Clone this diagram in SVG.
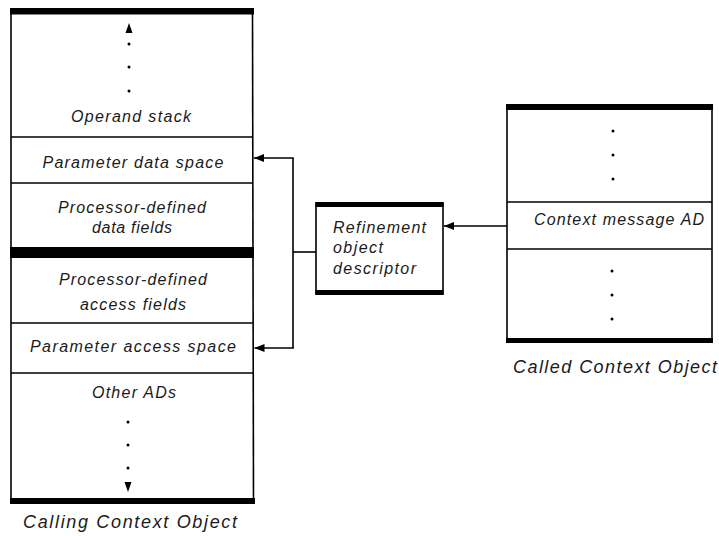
<svg xmlns="http://www.w3.org/2000/svg" width="719" height="536" viewBox="0 0 719 536">
  <defs>
    <style>
      .frame { fill: none; stroke: #000; stroke-width: 1.6; }
      .rule { stroke: #000; stroke-width: 1.6; }
      .bar { fill: #000; }
      .dot { fill: #000; }
      .wire { fill: none; stroke: #000; stroke-width: 1.6; }
      text { font-family: "Liberation Sans", Arial, sans-serif; font-style: italic; font-size: 16px; fill: #1a1a1a; }
      .cap { font-size: 18px; }
    </style>
    <marker id="head" viewBox="0 0 10 8" refX="10" refY="4" markerWidth="10" markerHeight="8" markerUnits="userSpaceOnUse" orient="auto">
      <path d="M0,0 L10,4 L0,8 Z" fill="#000"/>
    </marker>
  </defs>

  <rect width="719" height="536" fill="#fff"/>

  <!-- Calling context object (left stack of fields) -->
  <g id="calling-context">
    <line class="rule" x1="11" y1="9" x2="11" y2="504"/>
    <line class="rule" x1="252.5" y1="9" x2="253.5" y2="504"/>
    <rect class="bar" x="10" y="8" width="244" height="6.5"/>
    <line class="rule" x1="11" y1="137" x2="253" y2="137"/>
    <line class="rule" x1="11" y1="183" x2="253" y2="183"/>
    <rect class="bar" x="10" y="247" width="244" height="11"/>
    <line class="rule" x1="11" y1="323" x2="253" y2="323"/>
    <line class="rule" x1="11" y1="373" x2="253" y2="373"/>
    <rect class="bar" x="10" y="498" width="245" height="6"/>

    <!-- operand stack grows upward -->
    <path d="M129,23 L125.5,33 L132.5,33 Z" fill="#000"/>
    <circle class="dot" cx="129" cy="44" r="1.5"/>
    <circle class="dot" cx="129" cy="67" r="1.5"/>
    <circle class="dot" cx="129" cy="91" r="1.5"/>
    <text x="131" y="122" text-anchor="middle" textLength="120" lengthAdjust="spacing">Operand stack</text>

    <text x="133" y="168" text-anchor="middle" textLength="181" lengthAdjust="spacing">Parameter data space</text>

    <text x="132" y="213" text-anchor="middle" textLength="148" lengthAdjust="spacing">Processor-defined</text>
    <text x="132" y="233" text-anchor="middle" textLength="80" lengthAdjust="spacing">data fields</text>

    <text x="133" y="285" text-anchor="middle" textLength="148" lengthAdjust="spacing">Processor-defined</text>
    <text x="133" y="310" text-anchor="middle" textLength="106" lengthAdjust="spacing">access fields</text>

    <text x="133" y="352" text-anchor="middle" textLength="206" lengthAdjust="spacing">Parameter access space</text>

    <text x="134" y="398" text-anchor="middle" textLength="84" lengthAdjust="spacing">Other ADs</text>
    <circle class="dot" cx="128" cy="422" r="1.5"/>
    <circle class="dot" cx="128" cy="445" r="1.5"/>
    <circle class="dot" cx="128" cy="468" r="1.5"/>
    <path d="M128,492 L124.5,482 L131.5,482 Z" fill="#000"/>

    <text class="cap" x="130" y="528" text-anchor="middle" textLength="214" lengthAdjust="spacing">Calling Context Object</text>
  </g>

  <!-- Refinement object descriptor -->
  <g id="refinement-od">
    <rect class="frame" x="316" y="203" width="127" height="91"/>
    <rect class="bar" x="315.5" y="202" width="128" height="5"/>
    <rect class="bar" x="315.5" y="290" width="128" height="5"/>
    <text x="333" y="233" textLength="93" lengthAdjust="spacing">Refinement</text>
    <text x="333" y="253" textLength="50" lengthAdjust="spacing">object</text>
    <text x="333" y="274" textLength="83" lengthAdjust="spacing">descriptor</text>
  </g>

  <!-- Called context object (right) -->
  <g id="called-context">
    <line class="rule" x1="507" y1="106" x2="507" y2="343"/>
    <line class="rule" x1="712" y1="106" x2="712" y2="343"/>
    <rect class="bar" x="506" y="104" width="207" height="6"/>
    <line class="rule" x1="507" y1="202" x2="712" y2="202"/>
    <line class="rule" x1="507" y1="249" x2="712" y2="249"/>
    <rect class="bar" x="506" y="338" width="207" height="5"/>
    <circle class="dot" cx="613" cy="131" r="1.5"/>
    <circle class="dot" cx="613" cy="155" r="1.5"/>
    <circle class="dot" cx="613" cy="179" r="1.5"/>
    <text x="619" y="225" text-anchor="middle" textLength="170" lengthAdjust="spacing">Context message AD</text>
    <circle class="dot" cx="612" cy="271" r="1.5"/>
    <circle class="dot" cx="612" cy="295" r="1.5"/>
    <circle class="dot" cx="612" cy="319" r="1.5"/>
    <text class="cap" x="615" y="373" text-anchor="middle" textLength="204" lengthAdjust="spacing">Called Context Object</text>
  </g>

  <!-- Connectors -->
  <g id="connectors">
    <line class="wire" x1="507" y1="226" x2="444" y2="226" marker-end="url(#head)"/>
    <line class="wire" x1="316" y1="252" x2="293" y2="252"/>
    <path class="wire" d="M293,158 L293,348"/>
    <line class="wire" x1="293.8" y1="158" x2="254" y2="158" marker-end="url(#head)"/>
    <line class="wire" x1="293.8" y1="348" x2="254.5" y2="348" marker-end="url(#head)"/>
  </g>
</svg>
